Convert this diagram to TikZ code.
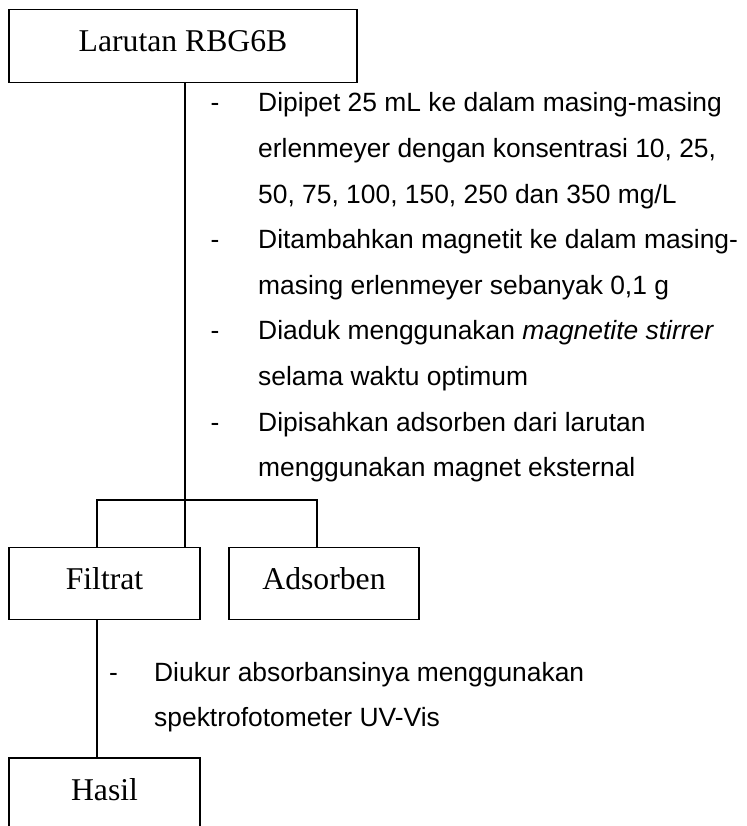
\documentclass[tikz,border=0pt]{standalone}
\usepackage{fontspec}
\setmainfont{Liberation Serif}
\newfontfamily\arialf{Liberation Sans}
\begin{document}
\begin{tikzpicture}[x=1pt,y=-1pt,
  box/.style={draw, line width=1.4pt, rectangle, inner sep=0pt,
    minimum height=72.5pt, text height=22pt, text depth=11pt,
    font={\fontsize{31.7}{38}\selectfont}},
  steptext/.style={inner sep=0pt, anchor=base west,
    font={\arialf\fontsize{26.4}{45.6}\selectfont}},
  conn/.style={line width=1.4pt}]
\useasboundingbox (0,0) rectangle (746,826);
\clip (0,0) rectangle (746,826);
\fill[white] (0,0) rectangle (746,826);
\node[box, minimum width=348pt] (top) at (183,46) {Larutan RBG6B};
\node[box, minimum width=191pt] (filt) at (104.5,583.5) {Filtrat};
\node[box, minimum width=190pt] (ads) at (324,583.5) {Adsorben};
\node[box, minimum width=191pt, minimum height=73pt] (hasil) at (104.5,794.5) {Hasil};
\node[steptext] (steps) at (210.5,112) {\begin{tabular}[t]{@{}p{47.5pt}@{}l@{}}
-&Dipipet 25 mL ke dalam masing-masing\\
&erlenmeyer dengan konsentrasi 10, 25,\\
&50, 75, 100, 150, 250 dan 350 mg/L\\
-&Ditambahkan magnetit ke dalam masing-\\
&masing erlenmeyer sebanyak 0,1 g\\
-&Diaduk menggunakan \textit{magnetite stirrer}\\
&selama waktu optimum\\
-&Dipisahkan adsorben dari larutan\\
&menggunakan magnet eksternal
\end{tabular}};
\node[steptext] (steps2) at (109,681) {\begin{tabular}[t]{@{}p{45pt}@{}l@{}}
-&Diukur absorbansinya menggunakan\\
&spektrofotometer UV-Vis
\end{tabular}};
\coordinate (bl) at (97,500);
\coordinate (br) at (317,500);
\coordinate (tl) at (185,82);
\draw[conn] (top.south -| tl) -- (filt.north -| tl);
\draw[conn] (filt.north -| bl) -- (bl) -- (br) -- (ads.north -| br);
\draw[conn] (filt.south -| bl) -- (hasil.north -| bl);
\end{tikzpicture}
\end{document}
